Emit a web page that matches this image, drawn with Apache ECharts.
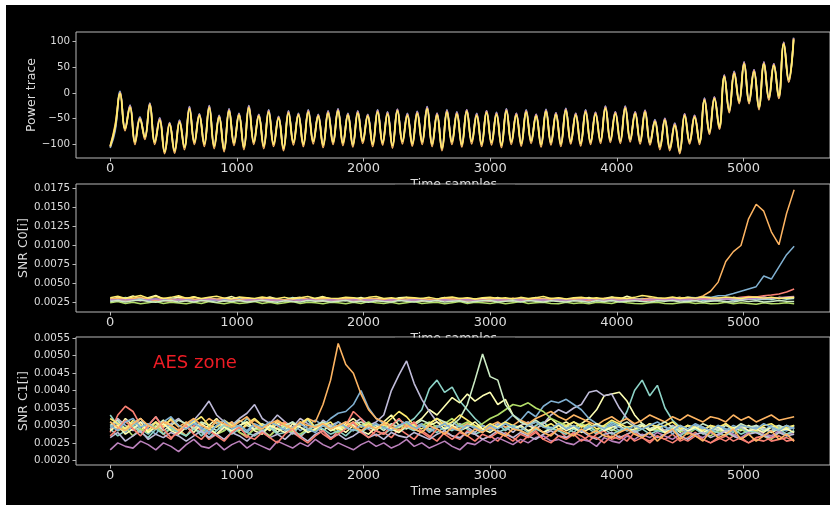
<!DOCTYPE html>
<html>
<head>
<meta charset="utf-8">
<script src="https://cdn.jsdelivr.net/npm/echarts@6/dist/echarts.min.js"></script>
<style>
  html, body { margin: 0; padding: 0; background: #000; }
  #chart { width: 830px; height: 505px; }
</style>
</head>
<body>
<div id="chart"></div>
<script>
// Line colours (dark background cycle)
const PALETTE = ['#8dd3c7', '#feffb3', '#bfbbd9', '#fa8174', '#81b1d2',
                 '#fdb462', '#b3de69', '#bc82bd', '#ccebc4', '#ffed6f'];

// Tick positions
const X_TICKS = [0, 1000, 2000, 3000, 4000, 5000];
const POWER_TICKS = [-100, -50, 0, 50, 100];
const C0_TICKS = [0.0025, 0.0050, 0.0075, 0.0100, 0.0125, 0.0150, 0.0175];
const C1_TICKS = [0.0020, 0.0025, 0.0030, 0.0035, 0.0040, 0.0045, 0.0050, 0.0055];

// Sampling interval (time samples between stored points)
const POWER_STEP = 39.1;
const SNR_STEP = 60;
// SNR values are stored in units of 1e-5
const SNR_UNIT = 1e-5;

// ---- Power traces ----
const powerBlue = [
  -108, -75, 3, -71, -24, -97, -47, -88, -20, -97,
  -49, -116, -58, -115, -53, -107, -27, -98, -41, -101,
  -25, -105, -44, -112, -31, -99, -40, -107, -25, -98,
  -42, -105, -33, -101, -46, -110, -35, -98, -40, -102,
  -33, -96, -42, -103, -35, -98, -31, -99, -40, -103,
  -35, -95, -42, -101, -33, -99, -37, -104, -32, -96,
  -40, -101, -36, -97, -27, -102, -40, -110, -33, -97,
  -37, -103, -33, -96, -40, -102, -35, -98, -38, -104,
  -31, -97, -40, -101, -33, -95, -42, -102, -32, -99,
  -39, -101, -30, -97, -40, -100, -33, -98, -38, -95,
  -26, -94, -37, -95, -26, -93, -37, -96, -34, -99,
  -52, -107, -50, -110, -59, -117, -41, -97, -44, -98,
  -10, -79, -8, -69, 35, -37, 42, -19, 60, -20,
  45, -31, 60, -13, 57, -10, 99, 22, 108
];
const powerPurple = [
  -106, -70, 1, -69, -25, -94, -49, -85, -21, -94,
  -50, -113, -59, -111, -54, -104, -28, -94, -42, -98,
  -26, -102, -45, -108, -32, -96, -41, -104, -26, -94,
  -43, -102, -34, -98, -47, -106, -36, -95, -41, -98,
  -34, -93, -43, -100, -36, -94, -32, -96, -41, -99,
  -36, -92, -43, -98, -34, -95, -38, -101, -32, -93,
  -41, -97, -37, -94, -28, -98, -40, -106, -34, -94,
  -38, -99, -33, -93, -41, -98, -35, -95, -39, -100,
  -32, -94, -40, -97, -34, -92, -42, -99, -33, -95,
  -39, -98, -31, -93, -40, -97, -34, -94, -38, -92,
  -27, -90, -37, -92, -27, -89, -37, -93, -34, -95,
  -53, -104, -50, -106, -60, -112, -41, -93, -44, -94,
  -11, -74, -8, -64, 35, -32, 41, -14, 60, -14,
  45, -26, 60, -7, 57, -4, 99, 28, 107
];
const powerOrange = [
  -104, -62, 0, -74, -27, -101, -50, -91, -22, -101,
  -52, -119, -60, -118, -56, -111, -30, -101, -43, -105,
  -28, -109, -46, -115, -34, -103, -42, -111, -28, -101,
  -44, -109, -36, -105, -48, -113, -38, -102, -42, -105,
  -36, -100, -44, -107, -38, -101, -34, -103, -42, -106,
  -38, -99, -44, -105, -36, -102, -40, -108, -34, -100,
  -43, -104, -39, -101, -30, -105, -42, -113, -36, -101,
  -40, -106, -35, -100, -43, -105, -37, -102, -41, -107,
  -34, -101, -42, -104, -36, -99, -44, -106, -35, -102,
  -41, -105, -33, -100, -42, -104, -36, -101, -40, -99,
  -29, -97, -39, -99, -29, -96, -39, -100, -36, -102,
  -55, -111, -52, -113, -62, -119, -43, -100, -46, -101,
  -13, -81, -10, -71, 33, -39, 39, -21, 58, -21,
  43, -33, 58, -14, 55, -11, 97, 21, 106
];
const powerYellow = [
  -105, -67, -2, -70, -29, -96, -52, -86, -24, -96,
  -54, -115, -62, -113, -58, -106, -32, -96, -45, -100,
  -30, -104, -48, -110, -36, -98, -44, -106, -30, -96,
  -46, -104, -38, -100, -50, -108, -40, -97, -44, -100,
  -38, -95, -46, -102, -40, -96, -36, -98, -44, -101,
  -40, -94, -46, -100, -38, -97, -42, -103, -36, -95,
  -45, -99, -41, -96, -32, -100, -44, -108, -38, -96,
  -42, -101, -37, -95, -45, -100, -39, -97, -43, -102,
  -36, -96, -44, -99, -38, -94, -46, -101, -37, -97,
  -43, -100, -35, -95, -44, -99, -38, -96, -42, -94,
  -31, -92, -41, -94, -31, -91, -41, -95, -38, -97,
  -57, -106, -54, -108, -64, -114, -45, -95, -48, -96,
  -15, -76, -12, -66, 31, -34, 37, -16, 56, -16,
  41, -28, 56, -9, 53, -6, 95, 26, 104
];

// ---- SNR C0[i] (units of 1e-5) ----
const c0Teal = [
  300, 285, 320, 295, 280, 310, 290, 275, 305, 325,
  285, 295, 280, 315, 290, 275, 285, 320, 290, 280,
  305, 285, 275, 290, 320, 285, 280, 305, 285, 275,
  290, 280, 315, 285, 275, 300, 285, 280, 310, 285,
  275, 300, 280, 285, 315, 280, 275, 300, 285, 280,
  305, 280, 285, 275, 310, 285, 280, 305, 285, 275,
  285, 300, 280, 275, 310, 285, 280, 300, 275, 285,
  280, 305, 285, 275, 300, 280, 285, 310, 280, 290,
  285, 305, 280, 290, 310, 285, 295, 290, 310, 295,
  305
];
const c0PaleYellow = [
  290, 320, 305, 340, 295, 315, 345, 300, 290, 325,
  300, 330, 295, 315, 290, 305, 330, 295, 315, 290,
  300, 325, 295, 285, 310, 320, 290, 305, 330, 295,
  285, 310, 295, 320, 290, 305, 295, 285, 315, 320,
  290, 305, 285, 295, 320, 290, 305, 295, 285, 310,
  295, 320, 290, 305, 285, 295, 320, 290, 305, 295,
  285, 310, 295, 320, 290, 305, 325, 295, 335, 305,
  290, 310, 295, 285, 305, 320, 295, 315, 300, 290,
  315, 295, 320, 305, 295, 315, 325, 300, 320, 305,
  315
];
const c0Lavender = [
  280, 295, 275, 290, 300, 285, 275, 290, 280, 295,
  285, 275, 290, 280, 295, 285, 275, 290, 285, 280,
  290, 280, 275, 285, 295, 280, 290, 285, 275, 290,
  280, 290, 285, 275, 290, 280, 295, 285, 280, 290,
  285, 275, 290, 280, 285, 295, 280, 290, 285, 275,
  290, 280, 285, 290, 275, 285, 280, 290, 285, 280,
  275, 290, 285, 280, 295, 285, 275, 290, 280, 285,
  290, 280, 295, 285, 280, 290, 285, 280, 295, 290,
  285, 295, 290, 300, 295, 305, 300, 310, 305, 315,
  320
];
const c0Red = [
  300, 280, 270, 295, 285, 275, 290, 280, 270, 285,
  275, 290, 280, 270, 285, 275, 290, 280, 270, 285,
  280, 270, 285, 275, 265, 280, 290, 275, 270, 285,
  275, 285, 270, 280, 290, 275, 280, 270, 285, 275,
  280, 270, 285, 275, 280, 290, 275, 270, 285, 280,
  270, 285, 275, 280, 270, 285, 280, 275, 290, 280,
  275, 285, 270, 280, 290, 275, 285, 280, 270, 285,
  280, 290, 285, 295, 285, 300, 295, 305, 300, 310,
  305, 315, 310, 320, 330, 325, 340, 350, 365, 390,
  430
];
const c0Blue = [
  290, 305, 285, 300, 295, 280, 300, 290, 305, 285,
  295, 285, 300, 290, 280, 295, 290, 300, 285, 295,
  285, 300, 290, 280, 295, 305, 290, 285, 300, 290,
  300, 285, 295, 290, 305, 285, 290, 300, 285, 295,
  290, 300, 285, 295, 290, 280, 300, 290, 295, 285,
  295, 290, 300, 285, 295, 300, 290, 285, 300, 290,
  285, 295, 290, 300, 285, 295, 305, 290, 300, 295,
  305, 295, 310, 300, 315, 305, 320, 315, 325, 320,
  340, 345, 370, 400, 430, 460, 600, 560, 720, 880,
  990
];
const c0Orange = [
  295, 310, 290, 305, 320, 300, 285, 310, 295, 300,
  315, 300, 290, 305, 295, 310, 300, 290, 305, 295,
  300, 310, 295, 285, 300, 315, 300, 290, 305, 300,
  290, 305, 300, 295, 310, 300, 290, 305, 295, 300,
  310, 295, 300, 290, 305, 300, 295, 310, 300, 290,
  300, 305, 295, 310, 300, 290, 305, 300, 295, 310,
  300, 295, 305, 290, 300, 310, 295, 300, 305, 295,
  300, 310, 295, 305, 300, 315, 310, 305, 340, 400,
  520, 790, 920, 1000, 1350, 1540, 1450, 1180, 1010, 1420,
  1730
];
const c0Green = [
  250, 265, 240, 255, 235, 250, 265, 240, 255, 245,
  235, 255, 240, 265, 250, 235, 255, 240, 250, 265,
  240, 255, 235, 250, 265, 240, 255, 250, 235, 255,
  250, 235, 255, 240, 265, 250, 240, 255, 235, 250,
  265, 240, 250, 255, 235, 250, 265, 240, 255, 250,
  240, 255, 235, 250, 265, 240, 250, 255, 240, 235,
  255, 240, 250, 235, 255, 250, 240, 265, 250, 240,
  235, 250, 255, 240, 235, 250, 255, 240, 250, 235,
  240, 255, 235, 250, 240, 230, 250, 235, 240, 250,
  235
];
const c0Purple = [
  290, 280, 295, 285, 275, 290, 300, 285, 280, 295,
  285, 275, 290, 300, 285, 280, 290, 275, 285, 295,
  280, 290, 285, 275, 290, 280, 295, 285, 275, 290,
  285, 280, 290, 295, 280, 285, 275, 290, 285, 280,
  290, 285, 275, 285, 290, 280, 285, 295, 280, 285,
  275, 290, 285, 280, 290, 275, 285, 290, 280, 285,
  290, 280, 285, 295, 280, 285, 290, 280, 285, 290,
  285, 295, 290, 285, 300, 290, 295, 305, 295, 300,
  310, 300, 305, 315, 305, 310, 320, 310, 315, 325,
  330
];
const c0LightGreen = [
  265, 280, 260, 275, 285, 265, 255, 275, 280, 260,
  275, 260, 280, 270, 255, 275, 265, 280, 260, 270,
  280, 265, 255, 275, 265, 260, 280, 270, 275, 260,
  270, 280, 260, 270, 255, 275, 265, 260, 280, 270,
  260, 275, 265, 280, 260, 270, 275, 255, 265, 275,
  280, 260, 270, 275, 260, 280, 270, 260, 275, 265,
  260, 275, 270, 255, 275, 265, 280, 260, 270, 275,
  265, 260, 275, 270, 280, 260, 265, 275, 260, 270,
  275, 265, 260, 280, 265, 275, 260, 265, 280, 270,
  265
];
const c0Yellow = [
  315, 335, 305, 325, 345, 310, 330, 305, 320, 340,
  310, 325, 305, 320, 335, 310, 300, 325, 315, 305,
  325, 310, 305, 320, 300, 315, 330, 305, 320, 310,
  305, 320, 315, 300, 320, 330, 305, 315, 300, 320,
  315, 305, 320, 300, 315, 325, 305, 315, 300, 315,
  320, 305, 315, 300, 320, 305, 315, 330, 305, 315,
  300, 315, 320, 305, 315, 300, 320, 315, 305, 320,
  345, 330, 315, 310, 325, 305, 320, 310, 325, 315,
  310, 325, 315, 305, 320, 325, 310, 320, 305, 315,
  320
];

// ---- SNR C1[i] (units of 1e-5) ----
const c1Teal = [
  330, 300, 285, 310, 290, 275, 300, 315, 290, 280,
  305, 295, 270, 290, 310, 300, 285, 295, 320, 300,
  280, 295, 310, 290, 275, 300, 315, 290, 300, 285,
  295, 310, 300, 280, 295, 305, 290, 300, 315, 305,
  320, 345, 405, 430, 395, 410, 370, 345, 320, 300,
  290, 305, 285, 300, 295, 280, 300, 310, 290, 285,
  295, 280, 300, 290, 275, 295, 310, 300, 340, 400,
  430, 385, 415, 350, 315, 295, 280, 300, 290, 285,
  300, 290, 280, 295, 285, 300, 290, 280, 295, 285,
  300
];
const c1PaleYellow = [
  310, 290, 320, 300, 285, 305, 290, 315, 300, 285,
  295, 310, 285, 300, 320, 295, 280, 300, 310, 290,
  300, 285, 305, 295, 280, 310, 290, 300, 285, 300,
  290, 305, 320, 300, 295, 285, 310, 330, 300, 290,
  305, 320, 345, 330, 355, 380, 365, 390, 370, 385,
  395, 360, 375, 330, 310, 300, 290, 305, 320, 300,
  310, 295, 305, 320, 345, 385, 390, 395, 370, 330,
  305, 290, 300, 285, 295, 280, 300, 290, 285, 300,
  290, 280, 295, 285, 300, 290, 295, 280, 290, 300,
  290
];
const c1Lavender = [
  290, 320, 300, 285, 310, 300, 325, 295, 305, 320,
  300, 315, 340, 370, 330, 310, 300, 320, 335, 360,
  320, 305, 330, 310, 295, 320, 305, 290, 315, 300,
  310, 295, 305, 320, 300, 310, 330, 400, 445, 485,
  420, 375, 340, 310, 300, 290, 305, 295, 280, 300,
  290, 305, 295, 280, 300, 310, 290, 305, 330, 345,
  335, 350, 360, 395, 400, 385, 390, 350, 320, 300,
  290, 305, 295, 285, 300, 290, 280, 300, 295, 285,
  290, 305, 285, 295, 280, 300, 290, 285, 300, 290,
  295
];
const c1Red = [
  280, 330, 355, 340, 300, 285, 310, 275, 260, 290,
  270, 300, 285, 260, 275, 295, 310, 280, 265, 300,
  285, 270, 295, 310, 280, 265, 290, 300, 275, 260,
  285, 300, 340, 320, 290, 270, 280, 265, 290, 275,
  260, 285, 270, 255, 280, 270, 260, 285, 275, 260,
  270, 255, 280, 265, 250, 270, 285, 260, 275, 290,
  265, 280, 270, 255, 275, 285, 260, 270, 255, 280,
  265, 250, 270, 260, 275, 255, 265, 280, 260, 250,
  265, 255, 270, 260, 250, 265, 270, 255, 260, 265,
  255
];
const c1Blue = [
  295, 310, 280, 300, 320, 290, 275, 305, 295, 280,
  300, 315, 290, 275, 300, 285, 310, 295, 280, 300,
  290, 305, 280, 295, 310, 285, 300, 315, 300, 320,
  335, 340, 360, 400, 350, 320, 305, 290, 300, 310,
  295, 305, 290, 300, 285, 310, 295, 305, 290, 300,
  285, 300, 310, 330, 315, 340, 325, 355, 370, 365,
  375, 360, 345, 320, 305, 290, 300, 285, 295, 280,
  300, 290, 285, 300, 275, 295, 285, 300, 290, 280,
  295, 285, 300, 290, 280, 295, 285, 300, 290, 285,
  295
];
const c1Orange = [
  285, 300, 310, 295, 280, 305, 290, 300, 315, 295,
  310, 290, 300, 320, 305, 295, 310, 285, 300, 315,
  300, 290, 310, 305, 295, 300, 320, 310, 360, 430,
  535, 475, 450, 390, 345, 320, 310, 300, 295, 305,
  290, 300, 285, 295, 310, 300, 290, 305, 295, 285,
  300, 310, 295, 300, 315, 305, 320, 330, 340, 325,
  315, 330, 320, 310, 300, 315, 325, 310, 320, 305,
  315, 330, 320, 310, 325, 315, 330, 320, 310, 325,
  320, 310, 330, 315, 325, 310, 320, 330, 315, 320,
  325
];
const c1Green = [
  300, 285, 295, 270, 290, 280, 300, 275, 290, 285,
  270, 290, 280, 295, 275, 285, 300, 280, 270, 290,
  285, 270, 290, 300, 280, 275, 290, 285, 300, 290,
  280, 295, 285, 300, 310, 290, 300, 285, 295, 305,
  290, 300, 310, 295, 305, 320, 300, 310, 295, 305,
  320, 330, 345, 360, 355, 365, 350, 340, 320, 310,
  300, 290, 305, 295, 285, 300, 290, 280, 295, 285,
  300, 285, 290, 280, 295, 285, 275, 290, 280, 270,
  285, 280, 270, 290, 275, 285, 270, 260, 280, 275,
  285
];
const c1Purple = [
  230, 250, 240, 235, 255, 245, 230, 250, 240, 225,
  245, 260, 240, 235, 250, 230, 245, 255, 235, 250,
  240, 230, 255, 245, 235, 250, 240, 260, 245, 235,
  250, 240, 230, 245, 255, 240, 250, 235, 245, 260,
  240, 250, 235, 245, 255, 240, 230, 250, 245, 260,
  250, 265, 255, 245, 260, 250, 265, 270, 255, 260,
  250, 245, 260, 255, 240, 265, 255, 250, 270, 260,
  275, 265, 280, 270, 260, 275, 285, 270, 265, 280,
  270, 285, 275, 265, 280, 290, 275, 270, 285, 275,
  280
];
const c1LightGreen = [
  300, 315, 290, 305, 320, 295, 310, 285, 300, 315,
  305, 290, 310, 300, 285, 305, 295, 315, 300, 290,
  305, 295, 280, 300, 310, 295, 285, 300, 310, 295,
  300, 290, 305, 310, 295, 300, 285, 305, 295, 310,
  300, 315, 305, 320, 310, 300, 320, 360, 430, 505,
  440, 430, 360, 330, 310, 300, 315, 300, 290, 305,
  295, 310, 300, 290, 305, 295, 285, 300, 310, 295,
  305, 290, 300, 310, 295, 285, 300, 290, 305, 295,
  285, 300, 290, 305, 295, 300, 285, 295, 300, 290,
  300
];
const c1Yellow = [
  320, 305, 290, 315, 300, 285, 310, 295, 320, 300,
  290, 310, 325, 300, 295, 315, 300, 285, 305, 320,
  300, 290, 315, 300, 285, 305, 320, 295, 300, 310,
  285, 300, 310, 295, 305, 290, 300, 320, 340, 325,
  300, 290, 305, 320, 300, 310, 330, 315, 300, 290,
  305, 295, 310, 300, 285, 300, 310, 295, 305, 290,
  300, 310, 295, 305, 290, 300, 315, 305, 295, 300,
  290, 305, 295, 300, 310, 290, 300, 295, 285, 300,
  295, 305, 290, 300, 295, 285, 300, 305, 290, 295,
  300
];
const c1Teal2 = [
  290, 270, 285, 300, 280, 265, 290, 275, 295, 280,
  270, 290, 280, 265, 285, 300, 275, 290, 280, 270,
  285, 295, 275, 280, 290, 270, 285, 300, 290, 275,
  285, 270, 290, 280, 300, 285, 275, 290, 280, 295,
  285, 300, 290, 280, 295, 285, 300, 290, 275, 285,
  295, 280, 290, 300, 285, 275, 290, 280, 295, 285,
  275, 290, 285, 300, 280, 290, 275, 285, 295, 280,
  290, 275, 285, 280, 295, 270, 285, 290, 275, 285,
  280, 270, 290, 275, 285, 280, 270, 285, 290, 275,
  285
];
const c1PaleYellow2 = [
  285, 300, 275, 290, 310, 280, 295, 305, 285, 275,
  295, 280, 305, 290, 275, 295, 285, 300, 310, 285,
  275, 300, 290, 280, 305, 295, 280, 290, 305, 285,
  295, 280, 300, 285, 275, 295, 305, 290, 280, 300,
  290, 280, 300, 310, 290, 300, 285, 295, 310, 290,
  280, 295, 305, 290, 300, 285, 295, 280, 290, 300,
  285, 295, 280, 290, 305, 285, 295, 300, 285, 290,
  300, 285, 295, 280, 290, 300, 285, 295, 280, 290,
  295, 280, 290, 300, 285, 290, 280, 295, 285, 290,
  280
];
const c1Lavender2 = [
  265, 280, 255, 270, 285, 260, 275, 265, 280, 270,
  255, 270, 285, 265, 275, 260, 280, 270, 255, 275,
  285, 265, 275, 260, 280, 270, 255, 275, 285, 265,
  275, 260, 270, 285, 265, 275, 260, 280, 270, 265,
  280, 270, 260, 275, 285, 270, 265, 280, 275, 260,
  270, 285, 275, 265, 280, 270, 260, 275, 285, 270,
  265, 275, 285, 270, 260, 275, 280, 265, 275, 285,
  270, 280, 265, 275, 285, 270, 260, 275, 280, 265,
  275, 285, 270, 260, 275, 280, 270, 265, 280, 270,
  275
];
const c1Red2 = [
  270, 290, 315, 290, 270, 300, 325, 290, 265, 280,
  300, 275, 260, 285, 270, 255, 280, 295, 270, 260,
  280, 265, 250, 275, 290, 265, 250, 270, 285, 260,
  275, 290, 310, 280, 265, 285, 275, 300, 320, 295,
  310, 280, 265, 290, 275, 260, 280, 270, 255, 275,
  265, 280, 270, 255, 275, 265, 280, 260, 250, 270,
  260, 275, 255, 270, 265, 250, 270, 260, 275, 255,
  265, 255, 270, 260, 250, 265, 255, 270, 260, 250,
  260, 270, 255, 265, 250, 260, 255, 265, 270, 255,
  260
];
const c1Blue2 = [
  300, 285, 310, 320, 295, 305, 290, 310, 325, 300,
  290, 305, 295, 280, 300, 315, 290, 300, 285, 305,
  295, 310, 300, 285, 295, 305, 290, 280, 300, 290,
  310, 295, 285, 300, 290, 305, 295, 285, 300, 310,
  290, 300, 280, 295, 305, 290, 285, 300, 295, 280,
  300, 290, 305, 295, 285, 300, 310, 295, 290, 305,
  290, 300, 285, 295, 300, 290, 305, 295, 285, 300,
  290, 300, 310, 295, 285, 300, 290, 305, 295, 285,
  300, 290, 285, 300, 295, 290, 305, 295, 285, 300,
  290
];
const c1Orange2 = [
  310, 295, 285, 305, 320, 300, 290, 310, 300, 285,
  305, 320, 300, 290, 315, 305, 295, 310, 325, 300,
  290, 305, 315, 300, 290, 310, 300, 295, 305, 290,
  300, 310, 295, 285, 300, 290, 305, 295, 285, 300,
  290, 280, 300, 290, 275, 295, 285, 270, 290, 280,
  295, 280, 270, 290, 285, 275, 295, 280, 270, 290,
  280, 270, 290, 275, 285, 270, 265, 280, 290, 275,
  265, 280, 255, 275, 290, 260, 280, 270, 255, 285,
  265, 275, 290, 260, 275, 255, 270, 285, 260, 275,
  255
];

const POWER_SERIES = [
  { values: powerBlue, color: PALETTE[4], width: 1.6 },
  { values: powerPurple, color: PALETTE[7], width: 1.6 },
  { values: powerOrange, color: PALETTE[5], width: 1.6 },
  { values: powerYellow, color: PALETTE[9], width: 1.8 }
];
const C0_SERIES = [c0Teal, c0PaleYellow, c0Lavender, c0Red, c0Blue,
                   c0Orange, c0Green, c0Purple, c0LightGreen, c0Yellow];
const C1_SERIES = [c1Teal, c1PaleYellow, c1Lavender, c1Red, c1Blue,
                   c1Orange, c1Green, c1Purple, c1LightGreen, c1Yellow,
                   c1Teal2, c1PaleYellow2, c1Lavender2, c1Red2, c1Blue2, c1Orange2];

const FONT = 'DejaVu Sans';
const TEXT = '#dcdcdc';
const FRAME = '#b8b8b8';

function toPairs(values, step, unit) {
  return values.map((v, i) => [i * step, v * unit]);
}
function line(gridIdx, data, color, width, smooth) {
  return {
    type: 'line', xAxisIndex: gridIdx, yAxisIndex: gridIdx,
    data, showSymbol: false, symbol: 'none', silent: true, smooth: smooth || false,
    animation: false, lineStyle: { color, width }, z: 2
  };
}

const series = [];
POWER_SERIES.forEach(s => series.push(line(0, toPairs(s.values, POWER_STEP, 1), s.color, s.width, 0.45)));
C0_SERIES.forEach((s, i) => series.push(line(1, toPairs(s, SNR_STEP, SNR_UNIT), PALETTE[i % 10], 1.5)));
C1_SERIES.forEach((s, i) => series.push(line(2, toPairs(s, SNR_STEP, SNR_UNIT), PALETTE[i % 10], 1.6)));

const grids = [
  { left: 76, top: 32, width: 756, height: 126 },
  { left: 76, top: 184, width: 756, height: 128 },
  { left: 76, top: 337, width: 756, height: 128 }
].map(g => Object.assign(g, { show: true, borderColor: FRAME, borderWidth: 1, backgroundColor: 'transparent', containLabel: false }));

function xAxis(idx) {
  return {
    type: 'value', gridIndex: idx, min: -270, max: 5683,
    axisLine: { show: false, onZero: false }, splitLine: { show: false },
    axisTick: { show: true, customValues: X_TICKS, length: 3.5, lineStyle: { color: FRAME } },
    axisLabel: { customValues: X_TICKS, color: TEXT, fontSize: 13, fontFamily: FONT, margin: 4,
                 formatter: v => String(Math.round(v)) }
  };
}
function yAxis(idx, min, max, ticks, fmt) {
  return {
    type: 'value', gridIndex: idx, min, max,
    axisLine: { show: false, onZero: false }, splitLine: { show: false },
    axisTick: { show: true, customValues: ticks, length: 3.5, lineStyle: { color: FRAME } },
    axisLabel: { customValues: ticks, color: TEXT, fontSize: 10.3, fontFamily: FONT, margin: 6, formatter: fmt }
  };
}
const intFmt = v => String(Math.round(v)).replace('-', '\u2212');
const snrFmt = v => v.toFixed(4);

function txt(x, y, text, size, color, rot) {
  return {
    type: 'text', x, y, rotation: rot || 0, z: 50, silent: true,
    style: { text, fill: color, font: size + 'px "' + FONT + '"',
             align: 'center', verticalAlign: 'middle', textAlign: 'center', textVerticalAlign: 'middle' }
  };
}
function rect(x, y, w, h, fill, z) {
  return { type: 'rect', shape: { x, y, width: w, height: h }, style: { fill }, z, silent: true };
}

const chart = echarts.init(document.getElementById('chart'), null, { renderer: 'canvas' });
chart.setOption({
  backgroundColor: '#000',
  animation: false,
  grid: grids,
  xAxis: [xAxis(0), xAxis(1), xAxis(2)],
  yAxis: [
    yAxis(0, -127.4, 118.96, POWER_TICKS, intFmt),
    yAxis(1, 0.0012806, 0.018064, C0_TICKS, snrFmt),
    yAxis(2, 0.0018652, 0.0055373, C1_TICKS, snrFmt)
  ],
  series,
  graphic: [
    txt(31.3, 95, 'Power trace', 12.5, TEXT, Math.PI / 2),
    txt(24.2, 248, 'SNR C0[i]', 12.5, TEXT, Math.PI / 2),
    txt(24.2, 401, 'SNR C1[i]', 12.5, TEXT, Math.PI / 2),
    // x-axis titles; the upper two sit beneath the next panel
    txt(453.7, 185, 'Time samples', 12.5, TEXT),
    txt(453.7, 338.6, 'Time samples', 12.5, TEXT),
    txt(453.7, 491.7, 'Time samples', 12.5, TEXT),
    rect(395, 184.7, 120, 16, '#000', 60),
    rect(395, 337.7, 120, 12, '#000', 60),
    txt(195, 363.3, 'AES zone', 18, '#ee1c25'),
    rect(0, 0, 830, 5, '#fff', 100),
    rect(0, 0, 6, 505, '#fff', 100)
  ]
});
</script>
</body>
</html>
